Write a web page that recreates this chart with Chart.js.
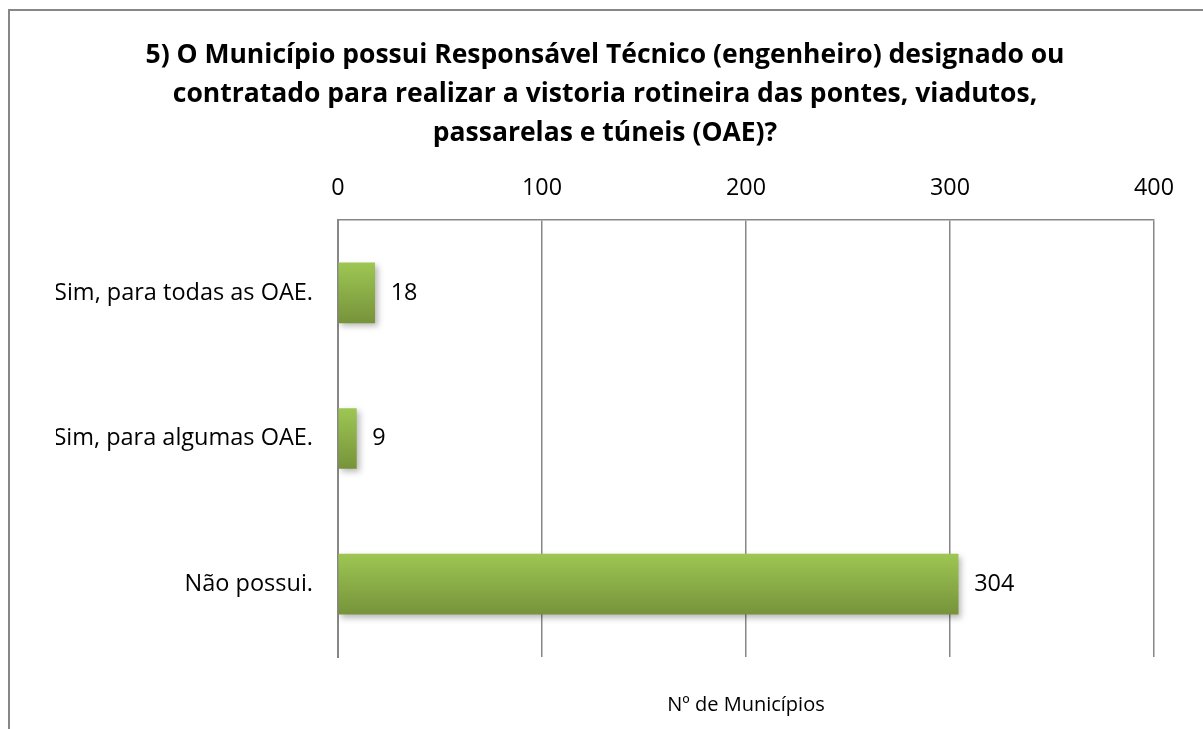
<!DOCTYPE html>
<html>
<head>
<meta charset="utf-8">
<script src="https://cdn.jsdelivr.net/npm/chart.js@4.4.0/dist/chart.umd.min.js"></script>
<style>
  html, body { margin: 0; padding: 0; background: #fff; overflow: hidden; }
  #wrap { position: relative; width: 1203px; height: 729px; }
  #frame { position: absolute; left: 8px; top: 9px; width: 1300px; height: 800px;
           border-left: 2px solid #878787; border-top: 2px solid #878787; }
  canvas { position: absolute; left: 0; top: 0; }
</style>
</head>
<body>
<div id="wrap">
  <div id="frame"></div>
  <canvas id="chart" width="1203" height="729"></canvas>
</div>
<script>
const titleLines = [
  "5) O Município possui Responsável Técnico (engenheiro) designado ou",
  "contratado para realizar a vistoria rotineira das pontes, viadutos,",
  "passarelas e túneis (OAE)?"
];
const categories = ["Sim, para todas as OAE.", "Sim, para algumas OAE.", "Não possui."];
const municipios = [18, 9, 304];
const xTicks = [0, 100, 200, 300, 400];
const axisTitle = "Nº de Municípios";

const FONT = "'Open Sans', Lato, sans-serif";
const GRID = "#878787";

// soft shadow under the bars, like the office chart
const barShadow = {
  id: "barShadow",
  beforeDatasetsDraw(chart) {
    const c = chart.ctx;
    c.save();
    c.shadowColor = "rgba(0,0,0,0.28)";
    c.shadowBlur = 6;
    c.shadowOffsetX = 3;
    c.shadowOffsetY = 3;
  },
  afterDatasetsDraw(chart) {
    chart.ctx.restore();
  }
};

// value labels to the right of each bar
const valueLabels = {
  id: "valueLabels",
  afterDraw(chart) {
    const c = chart.ctx;
    const meta = chart.getDatasetMeta(0);
    c.save();
    c.font = "23.4px " + FONT;
    c.fillStyle = "#000";
    c.textAlign = "left";
    c.textBaseline = "middle";
    meta.data.forEach((bar, i) => {
      c.fillText(String(municipios[i]), bar.x + 16, bar.y);
    });
    c.restore();
  }
};

function barGradient(ctx) {
  const chart = ctx.chart;
  if (!chart.chartArea || ctx.type !== "data") return "#8aad45";
  const y = chart.scales.y.getPixelForValue(ctx.dataIndex);
  const g = chart.ctx.createLinearGradient(0, y - 30, 0, y + 30);
  g.addColorStop(0, "#9dc653");
  g.addColorStop(1, "#77933b");
  return g;
}

new Chart(document.getElementById("chart"), {
  type: "bar",
  data: {
    labels: categories,
    datasets: [{
      label: axisTitle,
      data: municipios,
      backgroundColor: barGradient,
      borderWidth: 0,
      barThickness: 60
    }]
  },
  options: {
    indexAxis: "y",
    responsive: false,
    animation: false,
    layout: { padding: { top: 10, left: 56, right: 49, bottom: 0 } },
    plugins: {
      legend: { display: false },
      tooltip: { enabled: false },
      title: {
        display: true,
        text: titleLines,
        color: "#000",
        font: { family: FONT, size: 26.5, weight: "bold", lineHeight: 1.472 },
        padding: { top: 25.5, bottom: 0 }
      }
    },
    scales: {
      x: {
        position: "top",
        min: 0,
        max: 400,
        afterBuildTicks(scale) { scale.ticks = xTicks.map(v => ({ value: v })); },
        afterFit(scale) { scale.height = 67.5; },
        ticks: { color: "#000", padding: 18, font: { family: FONT, size: 23.3 } },
        grid: { color: GRID, lineWidth: 1.5, drawTicks: false },
        border: { display: true, color: GRID, width: 1.5 }
      },
      x2: {
        position: "bottom",
        axis: "x",
        min: 0,
        max: 400,
        afterFit(scale) { scale.height = 72; },
        ticks: { display: false },
        grid: { display: false, drawTicks: false },
        border: { display: false },
        title: {
          display: true,
          text: axisTitle,
          color: "#000",
          font: { family: FONT, size: 20 },
          padding: { top: 0, bottom: 12 }
        }
      },
      y: {
        afterFit(scale) { scale.width = 282; },
        ticks: { color: "#000", padding: 25, font: { family: FONT, size: 23.5 } },
        grid: { display: false, drawTicks: false },
        border: { display: true, color: GRID, width: 2 }
      }
    }
  },
  plugins: [barShadow, valueLabels]
});
</script>
</body>
</html>
